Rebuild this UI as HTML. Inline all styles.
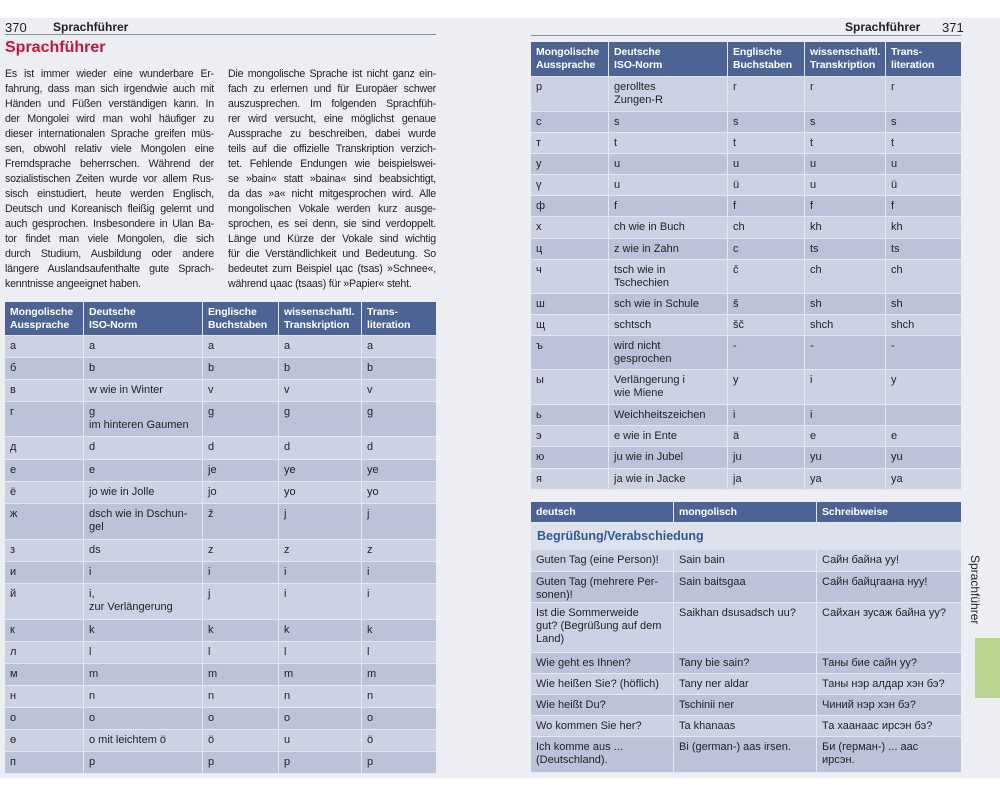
<!DOCTYPE html>
<html><head><meta charset="utf-8"><style>
*{margin:0;padding:0;box-sizing:border-box}
body{width:1000px;height:800px;background:#fff;position:relative;overflow:hidden;font-family:"Liberation Sans","DejaVu Sans",sans-serif;color:#222}
.pg{position:absolute;top:18px;left:0;width:1000px;height:760px;background:#eceef4}
.abs{position:absolute}
.p{position:absolute;font-size:10.6px;letter-spacing:-0.2px;line-height:15px;color:#222}
.p span{display:block;white-space:nowrap;text-align:justify;text-align-last:justify;height:15px}
.p span.l{text-align-last:left}
.tb{position:absolute}
.r{display:flex;border-bottom:1px solid #e4e7ef}
.c{font-size:11px;line-height:13px;padding:4px 5px 0 5px;border-right:1px solid #e4e7ef;overflow:hidden;white-space:nowrap}
.c:last-child{border-right:none}
.h{background:#4c6393;color:#fff;font-weight:bold;font-size:10.5px;letter-spacing:-0.1px}
.o{background:#ccd2e3}
.e{background:#bcc3d8}
</style></head><body>
<div class="pg"></div>
<div class="abs" style="left:5px;top:20px;font-size:13px;color:#222">370</div>
<div class="abs" style="left:53px;top:20px;font-size:12px;font-weight:bold">Sprachführer</div>
<div class="abs" style="left:5px;top:34px;width:431px;height:1px;background:#8a8f9e"></div>
<div class="abs" style="left:5px;top:39px;font-size:16px;font-weight:bold;color:#c0183a">Sprachführer</div>

<div class="abs" style="left:845px;top:20px;font-size:12px;font-weight:bold">Sprachführer</div>
<div class="abs" style="left:942px;top:20px;font-size:13px">371</div>
<div class="abs" style="left:531px;top:35px;width:430px;height:1px;background:#8a8f9e"></div>

<div class="p" style="left:5px;top:67px;width:209px">
<span>Es ist immer wieder eine wunderbare Er-</span><span>fahrung, dass man sich irgendwie auch mit</span><span>Händen und Füßen verständigen kann. In</span><span>der Mongolei wird man wohl häufiger zu</span><span>dieser internationalen Sprache greifen müs-</span><span>sen, obwohl relativ viele Mongolen eine</span><span>Fremdsprache beherrschen. Während der</span><span>sozialistischen Zeiten wurde vor allem Rus-</span><span>sisch einstudiert, heute werden Englisch,</span><span>Deutsch und Koreanisch fleißig gelernt und</span><span>auch gesprochen. Insbesondere in Ulan Ba-</span><span>tor findet man viele Mongolen, die sich</span><span>durch Studium, Ausbildung oder andere</span><span>längere Auslandsaufenthalte gute Sprach-</span><span class="l">kenntnisse angeeignet haben.</span></div>
<div class="p" style="left:228px;top:67px;width:208px">
<span>Die mongolische Sprache ist nicht ganz ein-</span><span>fach zu erlernen und für Europäer schwer</span><span>auszusprechen. Im folgenden Sprachfüh-</span><span>rer wird versucht, eine möglichst genaue</span><span>Aussprache zu beschreiben, dabei wurde</span><span>teils auf die offizielle Transkription verzich-</span><span>tet. Fehlende Endungen wie beispielswei-</span><span>se »bain« statt »baina« sind beabsichtigt,</span><span>da das »a« nicht mitgesprochen wird. Alle</span><span>mongolischen Vokale werden kurz ausge-</span><span>sprochen, es sei denn, sie sind verdoppelt.</span><span>Länge und Kürze der Vokale sind wichtig</span><span>für die Verständlichkeit und Bedeutung. So</span><span>bedeutet zum Beispiel цас (tsas) »Schnee«,</span><span class="l">während цаас (tsaas) für »Papier« steht.</span></div>

<div class="tb" style="left:5px;top:302px;width:431px" id="t1"></div>
<div class="tb" style="left:531px;top:42px;width:430px" id="t2"></div>
<div class="tb" style="left:531px;top:502px;width:430px" id="t3"></div>

<div class="abs" style="left:966px;top:555px;width:16px;height:70px"><div style="transform:rotate(90deg);transform-origin:0 0;position:absolute;left:16px;top:0;font-size:12px;white-space:nowrap">Sprachführer</div></div>
<div class="abs" style="left:975px;top:638px;width:25px;height:60px;background:#b9d58f"></div>

<script>
function mk(id,widths,rows){var el=document.getElementById(id),h='';rows.forEach(function(r,i){var cls=r.c;h+='<div class="r" style="height:'+r.h+'px">';r.t.forEach(function(t,j){h+='<div class="c '+cls+'" style="width:'+widths[j]+'px">'+t+'</div>';});h+='</div>';});el.innerHTML=h;}
var W1=[79,119,76,83,74];
var d1=[['Mongolische<br>Aussprache','Deutsche<br>ISO-Norm','Englische<br>Buchstaben','wissenschaftl.<br>Transkription','Trans-<br>literation',34,'h'],
['а','a','a','a','a',22],['б','b','b','b','b',22],['в','w wie in Winter','v','v','v',22],['г','g<br>im hinteren Gaumen','g','g','g',35],['д','d','d','d','d',23],['е','e','je','ye','ye',22],['ё','jo wie in Jolle','jo','yo','yo',22],['ж','dsch wie in Dschun-<br>gel','ž','j','j',36],['з','ds','z','z','z',22],['и','i','i','i','i',22],['й','i,<br>zur Verlängerung','j','i','i',36],['к','k','k','k','k',22],['л','l','l','l','l',22],['м','m','m','m','m',22],['н','n','n','n','n',22],['о','o','o','o','o',22],['ө','o mit leichtem ö','ö','u','ö',22],['п','p','p','p','p',22]];
function conv(d){return d.map(function(x,i){var n=x.length;var last=x[n-1];var hasC=(last==='h');var h=hasC?x[n-2]:x[n-1];var t=x.slice(0,hasC?n-2:n-1);return {t:t,h:h,c:hasC?'h':(i%2?'o':'e')};});}
mk('t1',W1,conv(d1));
var W2=[78,119,77,81,75];
var d2=[['Mongolische<br>Aussprache','Deutsche<br>ISO-Norm','Englische<br>Buchstaben','wissenschaftl.<br>Transkription','Trans-<br>literation',35,'h'],
['р','gerolltes<br>Zungen-R','r','r','r',35],['с','s','s','s','s',21],['т','t','t','t','t',21],['у','u','u','u','u',21],['ү','u','ü','u','ü',21],['ф','f','f','f','f',21],['х','ch wie in Buch','ch','kh','kh',22],['ц','z wie in Zahn','c','ts','ts',21],['ч','tsch wie in<br>Tschechien','č','ch','ch',34],['ш','sch wie in Schule','š','sh','sh',21],['щ','schtsch','šč','shch','shch',21],['ъ','wird nicht<br>gesprochen','-','-','-',34],['ы','Verlängerung i<br>wie Miene','y','i','y',35],['ь','Weichheitszeichen','i','i','',21],['э','e wie in Ente','ä','e','e',21],['ю','ju wie in Jubel','ju','yu','yu',22],['я','ja wie in Jacke','ja','ya','ya',21]];
mk('t2',W2,conv(d2));
var W3=[143,143,144];
var d3=[['deutsch','mongolisch','Schreibweise',21,'h'],
['Guten Tag (eine Person)!','Sain bain','Сайн байна уу!',22],['Guten Tag (mehrere Per-<br>sonen)!','Sain baitsgaa','Сайн байцгаана нуу!',31],['Ist die Sommerweide<br>gut? (Begrüßung auf dem<br>Land)','Saikhan dsusadsch uu?','Сайхан зусаж байна уу?',50],['Wie geht es Ihnen?','Tany bie sain?','Таны бие сайн уу?',21],['Wie heißen Sie? (höflich)','Tany ner aldar','Таны нэр алдар хэн бэ?',21],['Wie heißt Du?','Tschinii ner','Чиний нэр хэн бэ?',21],['Wo kommen Sie her?','Ta khanaas','Та хаанаас ирсэн бэ?',21],['Ich komme aus ...<br>(Deutschland).','Bi (german-) aas irsen.','Би (герман-) ... аас<br>ирсэн.',36]];
mk('t3',W3,conv(d3));
var el=document.getElementById('t3');
var hdr=el.firstChild;
var sec=document.createElement('div');
sec.style.cssText='height:27px;background:#dde1ec;color:#2f5a91;font-weight:bold;font-size:12.5px;padding:6px 6px 0';
sec.textContent='Begrüßung/Verabschiedung';
el.insertBefore(sec,hdr.nextSibling);
</script>
</body></html>
